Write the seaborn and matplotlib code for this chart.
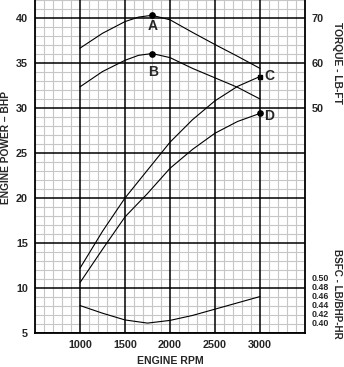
import matplotlib
matplotlib.use("Agg")
import matplotlib.pyplot as plt
import seaborn as sns
import pandas as pd
from matplotlib.ticker import MultipleLocator

# Engine speed points (rpm)
rpm = [1000, 1250, 1500, 1750, 2000, 2250, 2500, 2750, 3000]
torque_rpm = [1000, 1250, 1500, 1650, 1800, 2000, 2250, 2500, 2750, 3000]

# Torque curves (lb-ft)
torque_a = [63.3, 66.6, 69.2, 70.2, 70.6, 69.6, 66.8, 64.1, 61.5, 58.8]
torque_b = [54.7, 58.1, 60.6, 61.7, 62.1, 61.2, 58.8, 56.7, 54.6, 52.0]

# Power curves (BHP)
power_c = [12.2, 16.3, 20.0, 23.1, 26.2, 28.7, 30.8, 32.4, 33.5]
power_d = [10.6, 14.3, 17.9, 20.5, 23.3, 25.4, 27.2, 28.5, 29.4]

# Specific fuel consumption (lb/BHP-hr)
bsfc = [0.437, 0.420, 0.405, 0.398, 0.404, 0.415, 0.429, 0.443, 0.457]

# Marked points
peak_rpm = 1800
peak_a = 70.6
peak_b = 62.1
rated_rpm = 3000
rated_c = 33.5
rated_d = 29.4

x_ticks = [1000, 1500, 2000, 2500, 3000]
bhp_ticks = [5, 10, 15, 20, 25, 30, 35, 40]
torque_ticks = [50, 60, 70]
bsfc_ticks = [0.40, 0.42, 0.44, 0.46, 0.48, 0.50]

BHP_MIN, BHP_MAX = 5, 42
RPM_MIN, RPM_MAX = 500, 3500


def bhp_to_torque(v):
    return 2 * v - 10


def bhp_to_bsfc(v):
    return 0.40 + (v - 6.2) * 0.02


sns.set_style("white")
plt.rcParams["font.family"] = ["Liberation Sans", "DejaVu Sans"]
plt.rcParams["font.weight"] = "bold"

W, H = 344, 367
fig = plt.figure(figsize=(W / 100, H / 100), dpi=100)
ax = fig.add_axes([35 / W, 34 / H, 270 / W, 333 / H])

ax.set_xlim(RPM_MIN, RPM_MAX)
ax.set_ylim(BHP_MIN, BHP_MAX)
ax.xaxis.set_minor_locator(MultipleLocator(100))
ax.yaxis.set_minor_locator(MultipleLocator(1))
ax.grid(which="minor", color="#c6c6c6", lw=0.8)
ax.set_axisbelow(True)
# heavy rulings every 500 rpm and every 5 BHP
for v in x_ticks:
    ax.axvline(v, color="black", lw=1.1, zorder=0.8)
for v in bhp_ticks:
    ax.axhline(v, color="black", lw=1.1, zorder=0.8)
for side in ["left", "right", "bottom"]:
    ax.spines[side].set_color("black")
    ax.spines[side].set_linewidth(1.3)
ax.spines["top"].set_visible(False)

pw = pd.DataFrame({"rpm": rpm, "C": power_c, "D": power_d})
sns.lineplot(data=pw, x="rpm", y="C", ax=ax, color="black", lw=0.8, zorder=3)
sns.lineplot(data=pw, x="rpm", y="D", ax=ax, color="black", lw=0.8, zorder=3)
ax.plot([rated_rpm], [rated_c], "s", color="black", ms=3.5, zorder=4)
ax.plot([rated_rpm], [rated_d], "o", color="black", ms=3.8, zorder=4)
ax.set_xlabel("")
ax.set_ylabel("")
ax.set_xticks(x_ticks)
ax.set_yticks(bhp_ticks)
ax.tick_params(which="both", length=0, labelsize=7.8, pad=5)

# Torque scale on the right
ax_t = ax.twinx()
ax_t.set_ylim(bhp_to_torque(BHP_MIN), bhp_to_torque(BHP_MAX))
tq = pd.DataFrame({"rpm": torque_rpm, "A": torque_a, "B": torque_b})
sns.lineplot(data=tq, x="rpm", y="A", ax=ax_t, color="black", lw=0.8)
sns.lineplot(data=tq, x="rpm", y="B", ax=ax_t, color="black", lw=0.8)
ax_t.plot([peak_rpm], [peak_a], "o", color="black", ms=3.8)
ax_t.plot([peak_rpm], [peak_b], "o", color="black", ms=3.8)
ax_t.set_yticks(torque_ticks)
ax_t.set_ylabel("")
ax_t.tick_params(length=0, labelsize=7.8, pad=5)
for s in ax_t.spines.values():
    s.set_visible(False)

# BSFC scale on the right
ax_b = ax.twinx()
ax_b.set_ylim(bhp_to_bsfc(BHP_MIN), bhp_to_bsfc(BHP_MAX))
bs = pd.DataFrame({"rpm": rpm, "bsfc": bsfc})
sns.lineplot(data=bs, x="rpm", y="bsfc", ax=ax_b, color="black", lw=0.8)
ax_b.set_yticks(bsfc_ticks)
ax_b.set_yticklabels([f"{v:.2f}" for v in bsfc_ticks])
ax_b.set_ylabel("")
ax_b.tick_params(length=0, labelsize=6.4, pad=5)
for s in ax_b.spines.values():
    s.set_visible(False)

ax.set_xlim(RPM_MIN, RPM_MAX)
ax_b.set_xlabel("")
ax_t.set_xlabel("")

# Point letters
lab = dict(fontsize=10, ha="center", va="center", textcoords="offset pixels")
ax_t.annotate("A", (peak_rpm, peak_a), xytext=(1, -11), **lab)
ax_t.annotate("B", (peak_rpm, peak_b), xytext=(1, -18), **lab)
ax.annotate("C", (rated_rpm, rated_c), xytext=(9, 0), **lab)
ax.annotate("D", (rated_rpm, rated_d), xytext=(9, -3), **lab)

# Axis titles
fig.text(170 / W, 1 - 361 / H, "ENGINE RPM", fontsize=7.6, ha="center", va="center")
fig.text(6 / W, 1 - 147 / H, "ENGINE POWER \u2013 BHP", fontsize=7.4,
         rotation=90, ha="center", va="center")
fig.text(337 / W, 1 - 63 / H, "TORQUE - LB-FT", fontsize=7.4,
         rotation=-90, ha="center", va="center")
fig.text(337 / W, 1 - 294 / H, "BSFC - LB/BHP-HR", fontsize=7.1,
         rotation=-90, ha="center", va="center")

fig.savefig("out.png", dpi=100)
